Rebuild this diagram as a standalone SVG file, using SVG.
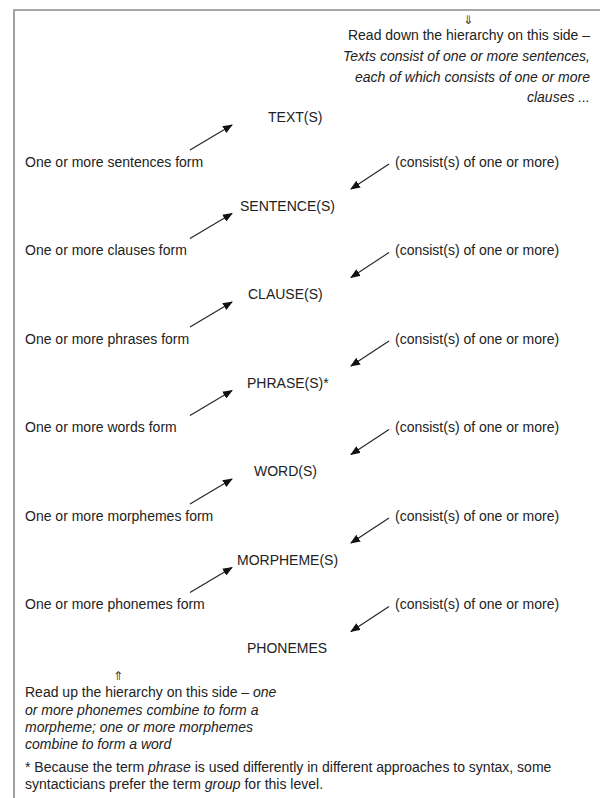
<svg xmlns="http://www.w3.org/2000/svg" width="600" height="798" viewBox="0 0 600 798">
<defs>
<style>
text{font-family:"Liberation Sans",Arial,sans-serif;font-size:14px;fill:#222}
.it{font-style:italic}
.r{text-anchor:end}
.c{text-anchor:middle}
.ar{font-family:"DejaVu Sans",sans-serif;font-size:12px;fill:#333}
.conn line{stroke:#222;stroke-width:1.1}
</style>
<marker id="ah" viewBox="0 0 10 8" refX="9" refY="4" markerWidth="10" markerHeight="8" markerUnits="userSpaceOnUse" orient="auto">
<path d="M0,0 L10,4 L0,8 Z" fill="#111"/>
</marker>
</defs>
<rect width="600" height="798" fill="#fff"/>
<g id="frame" fill="none" stroke="#8a8a8a" stroke-width="1.6">
<path d="M14,798 L14,10 L600,10"/>
</g>
<g id="note-top">
<text class="c ar" x="468" y="24">⇓</text>
<text class="r" x="590" y="40">Read down the hierarchy on this side –</text>
<text class="r it" x="590" y="61">Texts consist of one or more sentences,</text>
<text class="r it" x="590" y="82">each of which consists of one or more</text>
<text class="r it" x="590" y="102">clauses ...</text>
</g>
<g id="n-text"><text x="268" y="122">TEXT(S)</text></g>
<g id="n-sentence"><text x="240" y="211">SENTENCE(S)</text></g>
<g id="n-clause"><text x="248" y="299">CLAUSE(S)</text></g>
<g id="n-phrase"><text x="247" y="388">PHRASE(S)*</text></g>
<g id="n-word"><text x="254" y="476">WORD(S)</text></g>
<g id="n-morpheme"><text x="237" y="565">MORPHEME(S)</text></g>
<g id="n-phonemes"><text x="247" y="653">PHONEMES</text></g>
<g id="labels-left">
<text x="25" y="167">One or more sentences form</text>
<text x="25" y="255">One or more clauses form</text>
<text x="25" y="344">One or more phrases form</text>
<text x="25" y="432">One or more words form</text>
<text x="25" y="521">One or more morphemes form</text>
<text x="25" y="609">One or more phonemes form</text>
</g>
<g id="labels-right">
<text x="395" y="167">(consist(s) of one or more)</text>
<text x="395" y="255">(consist(s) of one or more)</text>
<text x="395" y="344">(consist(s) of one or more)</text>
<text x="395" y="432">(consist(s) of one or more)</text>
<text x="395" y="521">(consist(s) of one or more)</text>
<text x="395" y="609">(consist(s) of one or more)</text>
</g>
<g class="conn" id="connectors" marker-end="url(#ah)">
<line x1="190" y1="150" x2="232" y2="125"/>
<line x1="389" y1="164" x2="351" y2="189"/>
<line x1="190" y1="238.5" x2="232" y2="213.5"/>
<line x1="389" y1="252.5" x2="351" y2="277.5"/>
<line x1="190" y1="327" x2="232" y2="302"/>
<line x1="389" y1="341" x2="351" y2="366"/>
<line x1="190" y1="415.5" x2="232" y2="390.5"/>
<line x1="389" y1="429.5" x2="351" y2="454.5"/>
<line x1="190" y1="504" x2="232" y2="479"/>
<line x1="389" y1="518" x2="351" y2="543"/>
<line x1="190" y1="592.5" x2="232" y2="567.5"/>
<line x1="389" y1="606.5" x2="351" y2="631.5"/>
</g>
<g id="note-bottom">
<text class="c ar" x="118" y="680">⇑</text>
<text x="25" y="697">Read up the hierarchy on this side – <tspan class="it">one</tspan></text>
<text class="it" x="25" y="715">or more phonemes combine to form a</text>
<text class="it" x="25" y="732">morpheme; one or more morphemes</text>
<text class="it" x="25" y="749">combine to form a word</text>
</g>
<g id="footnote">
<text x="25" y="772">* Because the term <tspan class="it">phrase</tspan> is used differently in different approaches to syntax, some</text>
<text x="25" y="789">syntacticians prefer the term <tspan class="it">group</tspan> for this level.</text>
</g>
</svg>
